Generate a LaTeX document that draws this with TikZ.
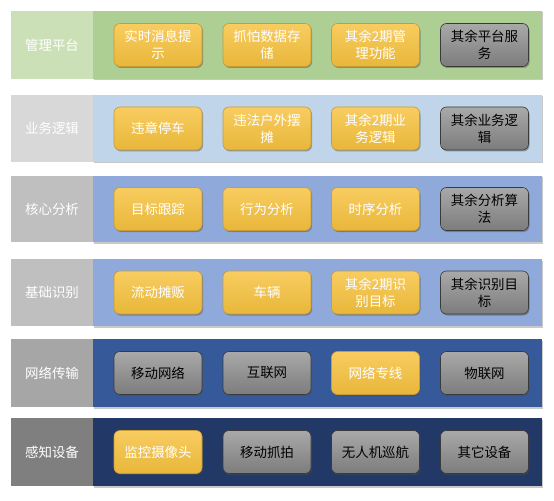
\documentclass[tikz,border=0pt]{standalone}
\usepackage{fontspec}
\setmainfont{Noto Sans CJK SC}
\usetikzlibrary{shadows}
\definecolor{gL}{HTML}{CCE0B8}\definecolor{gC}{HTML}{AECF93}
\definecolor{bL}{HTML}{D8D8D8}\definecolor{bC}{HTML}{C0D5EA}
\definecolor{pL}{HTML}{BFBFBF}\definecolor{pC}{HTML}{8FAADA}
\definecolor{mL}{HTML}{A6A6A6}\definecolor{mC}{HTML}{36599A}
\definecolor{nL}{HTML}{7F7F7F}\definecolor{nC}{HTML}{223866}
\definecolor{yT}{HTML}{F8CC60}\definecolor{yB}{HTML}{E8B73A}\definecolor{yD}{HTML}{C99B35}
\definecolor{kT}{HTML}{A9A9A9}\definecolor{kB}{HTML}{7C7C7C}\definecolor{kD}{HTML}{3A3A3A}
\tikzset{
  rowshadow/.style={drop shadow={opacity=0.35,shadow xshift=1bp,shadow yshift=-1.5bp,fill=black!60}},
  labbox/.style={rectangle,inner sep=0pt,minimum width=82bp,text=white,
    font=\fontsize{13.5}{16}\selectfont},
  conbox/.style={rectangle,inner sep=0pt,minimum width=449bp},
  itembox/.style={rectangle,rounded corners=6bp,minimum width=88bp,minimum height=43bp,
    inner sep=0pt,align=center,line width=0.6bp,font=\fontsize{13.5}{17}\selectfont,
    drop shadow={opacity=0.45,shadow xshift=1bp,shadow yshift=-1.5bp,fill=black!70}},
  ybox/.style={itembox,draw=yD,top color=yT,bottom color=yB,text=white},
  kbox/.style={itembox,draw=kD,top color=kT,bottom color=kB,text=black},
}
\begin{document}
\begin{tikzpicture}[x=1bp,y=-1bp]
\useasboundingbox[fill=white] (0,0) rectangle (554,501);
% row 1
\node[conbox,rowshadow,fill=gC,minimum height=68bp] (r1c) at (317.5,45) {};
\node[labbox,fill=gL,minimum height=68bp] (r1l) at (52,45) {管理平台};
\node[ybox] (r1a) at (158,45) {实时消息提\\示};
\node[ybox] (r1b) at (267,45) {抓怕数据存\\储};
\node[ybox] (r1x) at (375.5,45) {其余2期管\\理功能};
\node[kbox] (r1d) at (484.5,45) {其余平台服\\务};
% row 2
\node[conbox,rowshadow,fill=bC,minimum height=67bp] (r2c) at (317.5,128.5) {};
\node[labbox,fill=bL,minimum height=67bp] (r2l) at (52,128.5) {业务逻辑};
\node[ybox] (r2a) at (158,128.5) {违章停车};
\node[ybox] (r2b) at (267,128.5) {违法户外摆\\摊};
\node[ybox] (r2x) at (375.5,128.5) {其余2期业\\务逻辑};
\node[kbox] (r2d) at (484.5,128.5) {其余业务逻\\辑};
% row 3
\node[conbox,rowshadow,fill=pC,minimum height=66bp] (r3c) at (317.5,209) {};
\node[labbox,fill=pL,minimum height=66bp] (r3l) at (52,209) {核心分析};
\node[ybox] (r3a) at (158,209) {目标跟踪};
\node[ybox] (r3b) at (267,209) {行为分析};
\node[ybox] (r3x) at (375.5,209) {时序分析};
\node[kbox] (r3d) at (484.5,209) {其余分析算\\法};
% row 4
\node[conbox,rowshadow,fill=pC,minimum height=67bp] (r4c) at (317.5,292.5) {};
\node[labbox,fill=pL,minimum height=67bp] (r4l) at (52,292.5) {基础识别};
\node[ybox] (r4a) at (158,292.5) {流动摊贩};
\node[ybox] (r4b) at (267,292.5) {车辆};
\node[ybox] (r4x) at (375.5,292.5) {其余2期识\\别目标};
\node[kbox] (r4d) at (484.5,292.5) {其余识别目\\标};
% row 5
\node[conbox,rowshadow,fill=mC,minimum height=68bp] (r5c) at (317.5,373) {};
\node[labbox,fill=mL,minimum height=68bp] (r5l) at (52,373) {网络传输};
\node[kbox] (r5a) at (158,373) {移动网络};
\node[kbox] (r5b) at (267,373) {互联网};
\node[ybox] (r5x) at (375.5,373) {网络专线};
\node[kbox] (r5d) at (484.5,373) {物联网};
% row 6
\node[conbox,rowshadow,fill=nC,minimum height=68bp] (r6c) at (317.5,452) {};
\node[labbox,fill=nL,minimum height=68bp] (r6l) at (52,452) {感知设备};
\node[ybox] (r6a) at (158,452) {监控摄像头};
\node[kbox] (r6b) at (267,452) {移动抓拍};
\node[kbox] (r6x) at (375.5,452) {无人机巡航};
\node[kbox] (r6d) at (484.5,452) {其它设备};
\end{tikzpicture}
\end{document}
